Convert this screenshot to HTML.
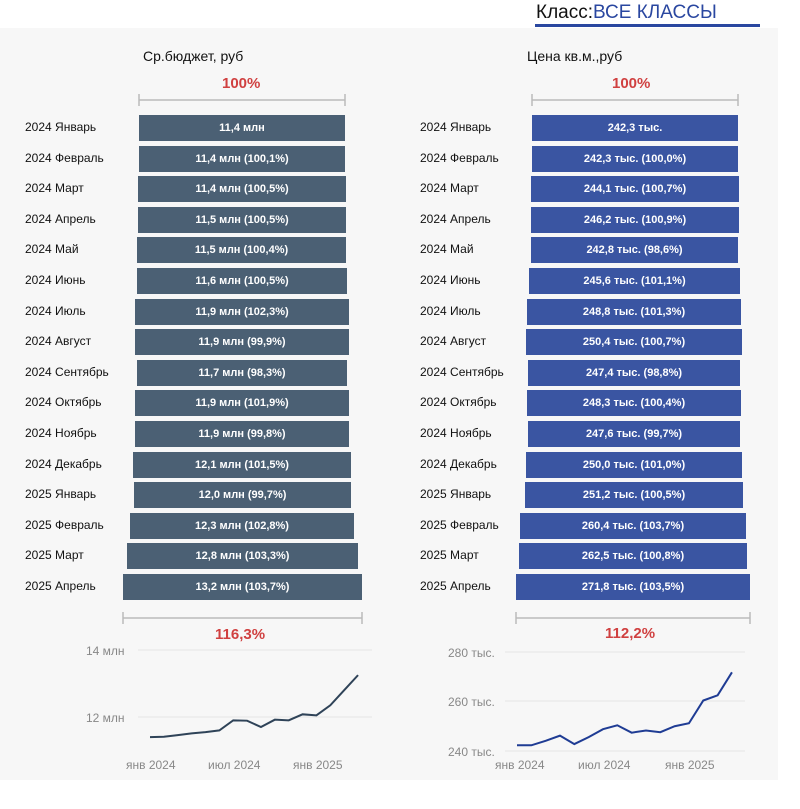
<!DOCTYPE html><html><head><meta charset="utf-8"><style>
body{margin:0;width:800px;height:809px;background:#fff;position:relative;overflow:hidden;font-family:"Liberation Sans",sans-serif}
.bg{position:absolute;left:0;top:28px;width:778px;height:752px;background:#f7f7f7}
.t{position:absolute;white-space:nowrap}
.lab{position:absolute;font-size:12px;color:#111}
.bar{position:absolute;height:26px;color:#fff;font-size:11px;font-weight:bold;text-align:center;line-height:26px;font-family:"Liberation Sans Narrow","Liberation Sans",sans-serif}
.pct{position:absolute;color:#d04040;font-weight:bold;font-size:15px}
</style></head><body>
<div class="bg"></div>
<div class="t" style="left:536px;top:2px;font-size:19px;color:#111;font-family:'Liberation Sans Narrow','Liberation Sans',sans-serif">Класс:<span style="color:#2a47a0">ВСЕ КЛАССЫ</span></div>
<div style="position:absolute;left:535px;top:24px;width:225px;height:3px;background:#2a47a0"></div>
<div class="t" style="left:143px;top:48px;font-size:14px;color:#111">Ср.бюджет, руб</div>
<div class="t" style="left:527px;top:48px;font-size:14px;color:#111">Цена кв.м.,руб</div>
<div class="pct" style="left:222px;top:75px">100%</div>
<div class="pct" style="left:612px;top:75px">100%</div>
<svg style="position:absolute;left:0;top:0" width="800" height="809">
<g stroke="#bbb" stroke-width="1.5" fill="none">
<path d="M139 100H345M139 94V106M345 94V106"/>
<path d="M532 100H738M532 94V106M738 94V106"/>
<path d="M123 618H362M123 612V624M362 612V624"/>
<path d="M516 618H750M516 612V624M750 612V624"/>
</g>
<g stroke="#e6e6e6"><path d="M138 650H372M138 717H372M505 652H745M505 701H745M505 751H745"/></g>
<g font-family="Liberation Sans" font-size="12" fill="#888">
<text x="86" y="655">14 млн</text><text x="86" y="722">12 млн</text>
<text x="448" y="657">280 тыс.</text><text x="448" y="706">260 тыс.</text><text x="448" y="756">240 тыс.</text>
<text x="126" y="769">янв 2024</text><text x="208" y="769">июл 2024</text><text x="293" y="769">янв 2025</text>
<text x="495" y="769">янв 2024</text><text x="578" y="769">июл 2024</text><text x="665" y="769">янв 2025</text>
</g>
<polyline id="l1" fill="none" stroke="#2f4358" stroke-width="2"/>
<polyline id="l2" fill="none" stroke="#1f3c94" stroke-width="2"/>
</svg>
<div class="pct" style="left:215px;top:626px">116,3%</div>
<div class="pct" style="left:605px;top:625px">112,2%</div>
<div id="rows"></div>
<script>
var m=["Январь","Февраль","Март","Апрель","Май","Июнь","Июль","Август","Сентябрь","Октябрь","Ноябрь","Декабрь","Январь","Февраль","Март","Апрель"];
var L=[[139,345,"11,4 млн"],[139,345,"11,4 млн (100,1%)"],[138,346,"11,4 млн (100,5%)"],[138,346,"11,5 млн (100,5%)"],[137,346,"11,5 млн (100,4%)"],[137,347,"11,6 млн (100,5%)"],[135,349,"11,9 млн (102,3%)"],[135,349,"11,9 млн (99,9%)"],[137,347,"11,7 млн (98,3%)"],[135,349,"11,9 млн (101,9%)"],[135,349,"11,9 млн (99,8%)"],[133,351,"12,1 млн (101,5%)"],[134,351,"12,0 млн (99,7%)"],[130,354,"12,3 млн (102,8%)"],[127,358,"12,8 млн (103,3%)"],[123,362,"13,2 млн (103,7%)"]];
var R=[[532,738,"242,3 тыс."],[532,738,"242,3 тыс. (100,0%)"],[531,739,"244,1 тыс. (100,7%)"],[531,739,"246,2 тыс. (100,9%)"],[531,738,"242,8 тыс. (98,6%)"],[529,740,"245,6 тыс. (101,1%)"],[527,741,"248,8 тыс. (101,3%)"],[526,742,"250,4 тыс. (100,7%)"],[528,740,"247,4 тыс. (98,8%)"],[527,741,"248,3 тыс. (100,4%)"],[528,740,"247,6 тыс. (99,7%)"],[526,742,"250,0 тыс. (101,0%)"],[525,743,"251,2 тыс. (100,5%)"],[520,746,"260,4 тыс. (103,7%)"],[519,747,"262,5 тыс. (100,8%)"],[516,750,"271,8 тыс. (103,5%)"]];
var h="";
for(var i=0;i<16;i++){var y=115+i*30.6,yr=i<12?"2024 ":"2025 ";
h+='<div class="lab" style="left:25px;top:'+(y+5)+'px">'+yr+m[i]+'</div>';
h+='<div class="lab" style="left:420px;top:'+(y+5)+'px">'+yr+m[i]+'</div>';
h+='<div class="bar" style="background:#4b6074;left:'+L[i][0]+'px;width:'+(L[i][1]-L[i][0])+'px;top:'+y+'px">'+L[i][2]+'</div>';
h+='<div class="bar" style="background:#3a55a2;left:'+R[i][0]+'px;width:'+(R[i][1]-R[i][0])+'px;top:'+y+'px">'+R[i][2]+'</div>';}
document.getElementById("rows").innerHTML=h;
var v1=[11.4,11.41,11.46,11.51,11.55,11.6,11.9,11.89,11.7,11.92,11.9,12.08,12.05,12.35,12.8,13.25];
var v2=[242.3,242.3,244.1,246.2,242.8,245.6,248.8,250.4,247.4,248.3,247.6,250,251.2,260.4,262.5,271.8];
var p1="",p2="";for(i=0;i<16;i++){p1+=(150+i*13.87)+","+(717-(v1[i]-12)*33.5)+" ";p2+=(517+i*14.33)+","+(751-(v2[i]-240)*2.475)+" ";}
document.getElementById("l1").setAttribute("points",p1);document.getElementById("l2").setAttribute("points",p2);
</script>
</body></html>
